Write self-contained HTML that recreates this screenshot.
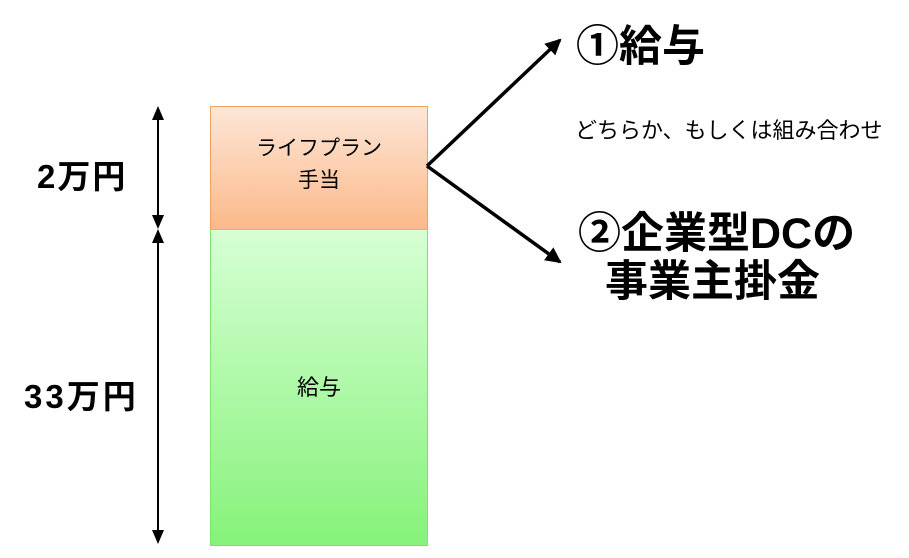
<!DOCTYPE html>
<html><head><meta charset="utf-8"><style>
body{margin:0;width:909px;height:558px;background:#fff;overflow:hidden;position:relative;font-family:"Liberation Sans","Noto Sans CJK JP",sans-serif}
.t{position:absolute;white-space:nowrap;color:#000}
</style></head><body>
<div style="position:absolute;left:210px;top:106px;width:216px;height:122px;border:1px solid #f0a060;background:linear-gradient(#fde6d6,#fbb98a)"></div>
<div style="position:absolute;left:210px;top:229px;width:216px;height:315px;border:1px solid #80e070;background:linear-gradient(#d6ffd4,#86f27a)"></div>
<div class="t" style="left:210px;width:218px;text-align:center;top:133px;font-size:21px;line-height:32px">ライフプラン<br>手当</div>
<div class="t" style="left:210px;width:218px;text-align:center;top:370px;font-size:22px">給与</div>
<svg style="position:absolute;left:0;top:0" width="909" height="558">
<defs><marker id="b" markerWidth="16" markerHeight="16" refX="14" refY="8" orient="auto" markerUnits="userSpaceOnUse" viewBox="0 0 16 16"><path d="M0,0L16,8L0,16z"/></marker></defs>
<g stroke="#000" stroke-width="2" fill="none">
<line x1="158" y1="120" x2="158" y2="215"/><line x1="158" y1="243" x2="158" y2="530"/>
</g>
<g fill="#000">
<path d="M152,120L158,106L164,120z"/><path d="M152,215L158,229L164,215z"/>
<path d="M152,243L158,229L164,243z"/><path d="M152,530L158,544L164,530z"/>
</g>
<g stroke="#000" stroke-width="3.5" fill="none">
<line x1="427" y1="166" x2="560" y2="40" marker-end="url(#b)"/>
<line x1="427" y1="166" x2="560" y2="262" marker-end="url(#b)"/>
</g>
</svg>
<div class="t" style="left:37px;top:150px;font-size:33px;font-weight:bold;letter-spacing:2px">2万円</div>
<div class="t" style="left:24px;top:370px;font-size:33px;font-weight:bold;letter-spacing:3px">33万円</div>
<div class="t" style="left:576px;top:12px;font-size:43px;font-weight:bold">①給与</div>
<div class="t" style="left:575px;top:113px;font-size:22px">どちらか、もしくは組み合わせ</div>
<div class="t" style="left:578px;top:210px;font-size:43px;font-weight:bold;line-height:48px">②企業型DCの</div>
<div class="t" style="left:605px;top:258px;font-size:43px;font-weight:bold;line-height:48px">事業主掛金</div>
</body></html>
